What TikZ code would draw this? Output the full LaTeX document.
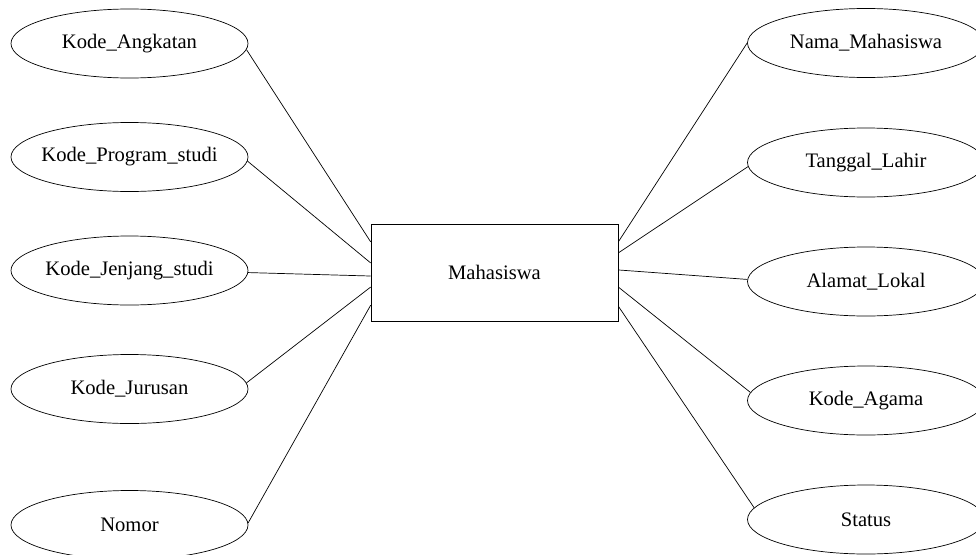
\documentclass[tikz,border=0pt]{standalone}
\usepackage{fontspec}
\setmainfont{Liberation Serif}
\usetikzlibrary{shapes.geometric,calc}
\newcommand{\zw}[1]{\makebox[0pt]{#1}}
\tikzset{
  attr/.style={ellipse, draw, line width=0.7pt, minimum width=237pt, minimum height=69pt, inner sep=0pt, font=\fontsize{20.6}{24}\selectfont},
  ent/.style={rectangle, draw, line width=0.7pt, minimum width=247pt, minimum height=97pt, inner sep=0pt, font=\fontsize{20.6}{24}\selectfont},
  link/.style={line width=0.7pt}
}
\begin{document}
\begin{tikzpicture}[x=1pt,y=-1pt]
\useasboundingbox (0,0) rectangle (976,554);
\node[ent] (m) at (494.5,272.5) {Mahasiswa};
\node[attr] (ka) at (129.5,43.5) {\zw{Kode\_Angkatan}};
\node[attr] (kp) at (129.5,157) {\zw{Kode\_Program\_studi}};
\node[attr] (kj) at (129.5,270.5) {\zw{Kode\_Jenjang\_studi}};
\node[attr] (kr) at (129.5,389) {\zw{Kode\_Jurusan}};
\node[attr] (no) at (129.5,525) {\zw{Nomor}};
\node[attr] (nm) at (866,43) {\zw{Nama\_Mahasiswa}};
\node[attr] (tl) at (866,162.5) {\zw{Tanggal\_Lahir}};
\node[attr] (al) at (866,281.5) {\zw{Alamat\_Lokal}};
\node[attr] (ag) at (866,400.5) {\zw{Kode\_Agama}};
\node[attr] (st) at (866,519.5) {\zw{Status}};
\draw[link] (ka.-3) -- ($(m.north west)!0.186!(m.south west)$);
\draw[link] (kp.-2) -- ($(m.north west)!0.402!(m.south west)$);
\draw[link] (kj.-1.2) -- ($(m.north west)!0.536!(m.south west)$);
\draw[link] (kr.3.5) -- ($(m.north west)!0.649!(m.south west)$);
\draw[link] (no.1) -- ($(m.north west)!0.835!(m.south west)$);
\draw[link] (nm.180) -- ($(m.north east)!0.186!(m.south east)$);
\draw[link] (tl.182.7) -- ($(m.north east)!0.299!(m.south east)$);
\draw[link] (al.179) -- ($(m.north east)!0.474!(m.south east)$);
\draw[link] (ag.176) -- ($(m.north east)!0.649!(m.south east)$);
\draw[link] (st.174) -- ($(m.north east)!0.845!(m.south east)$);
\end{tikzpicture}
\end{document}
